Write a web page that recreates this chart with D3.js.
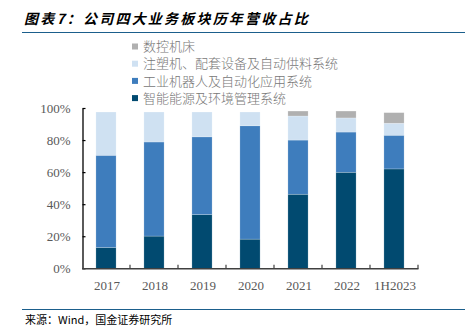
<!DOCTYPE html>
<html><head><meta charset="utf-8">
<script src="https://cdn.jsdelivr.net/npm/d3@7"></script>
<style>
html,body{margin:0;padding:0;background:#fff;}
svg{display:block;}
</style></head>
<body>
<svg id="c" width="465" height="327"></svg>
<script>
const categories = ["2017","2018","2019","2020","2021","2022","1H2023"];
const seriesNames = ["智能能源及环境管理系统","工业机器人及自动化应用系统","注塑机、配套设备及自动供料系统","数控机床"];
const energy   = [13.0, 20.1, 33.5, 18.2, 46.2, 59.9, 62.0];
const robot    = [57.5, 58.7, 48.5, 70.7, 33.8, 25.1, 21.0];
const injection= [27.0, 18.7, 15.5, 8.6, 15.0, 8.8, 7.5];
const cnc      = [0, 0, 0, 0, 3.1, 4.3, 6.6];
const yTicks = [0,20,40,60,80,100];
const colors = ["#014a70","#3e7dbd","#cfe1f2","#b0b0b0"];

const svg = d3.select("#c");
const seriesValues = [energy, robot, injection, cnc];
const rows = categories.map((c,i)=>{
  const r = {cat:c};
  seriesNames.forEach((s,k)=> r[s]=seriesValues[k][i]);
  return r;
});
const stack = d3.stack().keys(seriesNames)(rows);

const x = d3.scaleBand().domain(categories).range([82,418]).paddingInner(0.58).paddingOuter(0.29);
const xb = d3.scaleBand().domain(categories).range([82,418]);
const y = d3.scaleLinear().domain([0,100]).range([268.3,108]);

// title
svg.append("text").attr("x",24).attr("y",24)
  .attr("font-family","'Noto Sans CJK SC'").attr("font-weight","bold").attr("font-style","italic")
  .attr("font-size",14).attr("letter-spacing",2.2).attr("fill","#000")
  .text("图表7：公司四大业务板块历年营收占比");
svg.append("line").attr("x1",22).attr("x2",465).attr("y1",32.5).attr("y2",32.5)
  .attr("stroke","#1b5f8c").attr("stroke-width",1.2);

// legend (reverse order)
const legendOrder = [3,2,1,0];
legendOrder.forEach((k,j)=>{
  const cy = 46.5 + j*17.2;
  svg.append("rect").attr("x",132).attr("y",cy-3).attr("width",6).attr("height",6).attr("fill",colors[k]);
  svg.append("text").attr("x",143).attr("y",cy+4.6)
    .attr("font-family","'Noto Sans CJK SC'").attr("font-weight",300).attr("font-size",13)
    .attr("fill","#777").text(seriesNames[k]);
});

// bars
stack.forEach((layer,k)=>{
  svg.append("g").selectAll("rect").data(layer).join("rect")
    .attr("x",d=>x(d.data.cat)).attr("width",x.bandwidth())
    .attr("y",d=>y(d[1])).attr("height",d=>Math.max(0,y(d[0])-y(d[1])))
    .attr("fill",colors[k])
    .attr("stroke","#ffffff").attr("stroke-opacity",0.35).attr("stroke-width",0.6);
});

// y axis
const yAxis = d3.axisLeft(y).tickValues(yTicks).tickFormat(d=>d+"%").tickSizeInner(-3).tickSizeOuter(0).tickPadding(12);
const gy = svg.append("g").attr("transform","translate(82.5,0)").call(yAxis);
gy.select(".domain").attr("stroke","#000").attr("stroke-width",1.3);
gy.selectAll(".tick line").attr("stroke","#000").attr("stroke-width",1.2);
gy.selectAll("text").attr("font-family","'Liberation Serif'").attr("font-size",13).attr("fill","#595959");

// x axis
const gx = svg.append("g").attr("transform","translate(0,268.8)");
gx.append("line").attr("x1",82).attr("x2",418.5).attr("stroke","#404040").attr("stroke-width",1.6);
const bounds = categories.map(c=>xb(c)+xb.bandwidth());
gx.selectAll("line.t").data(bounds).join("line").attr("class","t")
  .attr("x1",d=>d).attr("x2",d=>d).attr("y1",0).attr("y2",-4)
  .attr("stroke","#404040").attr("stroke-width",1.2);
gx.selectAll("text").data(categories).join("text")
  .attr("x",d=>xb(d)+xb.bandwidth()/2+1).attr("y",21)
  .attr("text-anchor","middle").attr("font-family","'Liberation Serif'").attr("font-size",13)
  .attr("fill","#595959").text(d=>d);

// source
svg.append("line").attr("x1",22).attr("x2",465).attr("y1",309.5).attr("y2",309.5)
  .attr("stroke","#1b5f8c").attr("stroke-width",1.2);
svg.append("text").attr("x",25).attr("y",324)
  .attr("font-family","'Noto Sans CJK SC'").attr("font-size",11).attr("fill","#000")
  .text("来源：Wind，国金证券研究所");
</script>
</body></html>
